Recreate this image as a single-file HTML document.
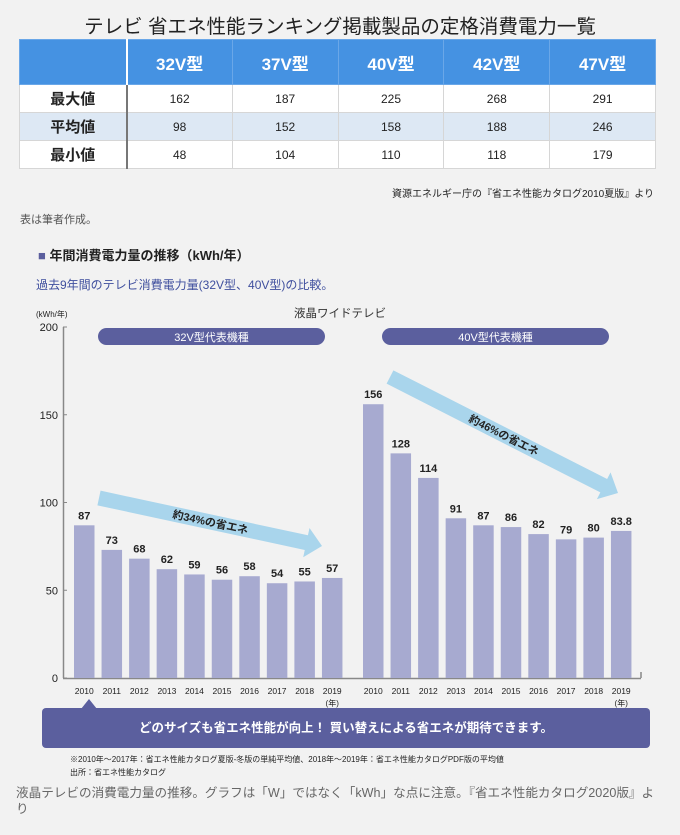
<!DOCTYPE html>
<html><head><meta charset="utf-8"><style>
body{margin:0;width:680px;height:835px;background:#f2f2f2;font-family:"Liberation Sans","Noto Sans CJK JP",sans-serif;position:relative;overflow:hidden}
.a{position:absolute;white-space:nowrap}
table{position:absolute;left:19px;top:39px;width:637px;border-collapse:collapse;table-layout:fixed}
td,th{border:1px solid #d6d6d6;text-align:center;padding:0}
th{background:#4592e2;color:#fff;font-size:17px;height:44px;border-color:#6aa7e8}
td{height:27px;font-size:12px;color:#222;background:#fff}
tr.m td{background:#dde8f4}
td.h{font-weight:bold;font-size:15px;border-right:2px solid #777}
</style></head><body>
<div class="a" style="left:0;width:680px;text-align:center;top:10px;font-size:19.5px;color:#222">テレビ 省エネ性能ランキング掲載製品の定格消費電力一覧</div>
<table>
<colgroup><col style="width:107px"><col><col><col><col><col></colgroup>
<tr><th style="border-right:2px solid #fff"></th><th>32V型</th><th>37V型</th><th>40V型</th><th>42V型</th><th>47V型</th></tr>
<tr><td class="h">最大値</td><td>162</td><td>187</td><td>225</td><td>268</td><td>291</td></tr>
<tr class="m"><td class="h">平均値</td><td>98</td><td>152</td><td>158</td><td>188</td><td>246</td></tr>
<tr><td class="h">最小値</td><td>48</td><td>104</td><td>110</td><td>118</td><td>179</td></tr>
</table>
<div class="a" style="right:26px;top:185px;font-size:10px;color:#222">資源エネルギー庁の『省エネ性能カタログ2010夏版』より</div>
<div class="a" style="left:20px;top:211px;font-size:11px;color:#555">表は筆者作成。</div>
<div class="a" style="left:38px;top:245px;font-size:13px;font-weight:bold;color:#222"><span style="color:#5b5f9e">■</span> 年間消費電力量の推移（kWh/年）</div>
<div class="a" style="left:36px;top:276px;font-size:12px;color:#3f4f9e">過去9年間のテレビ消費電力量(32V型、40V型)の比較。</div>
<svg class="a" style="left:0;top:0" width="680" height="835" id="chart"></svg>
<div class="a" style="left:42px;top:708px;width:608px;height:40px;background:#5b5f9e;border-radius:4px;color:#fff;font-weight:bold;font-size:12.5px;text-align:center;line-height:40px">どのサイズも省エネ性能が向上！ 買い替えによる省エネが期待できます。</div>
<div class="a" style="left:81px;top:699px;width:0;height:0;border-left:8px solid transparent;border-right:8px solid transparent;border-bottom:10px solid #5b5f9e"></div>
<div class="a" style="left:70px;top:754px;font-size:8px;color:#222">※2010年～2017年：省エネ性能カタログ夏版-冬版の単純平均値、2018年～2019年：省エネ性能カタログPDF版の平均値</div>
<div class="a" style="left:70px;top:767px;font-size:8px;color:#222">出所：省エネ性能カタログ</div>
<div class="a" style="left:16px;top:785px;font-size:12.6px;line-height:16px;color:#666">液晶テレビの消費電力量の推移。グラフは「W」ではなく「kWh」な点に注意。『省エネ性能カタログ2020版』よ<br>り</div>
<script>
const years=["2010","2011","2012","2013","2014","2015","2016","2017","2018","2019"];
const values32=[87,73,68,62,59,56,58,54,55,57];
const labels32=["87","73","68","62","59","56","58","54","55","57"];
const values40=[156,128,114,91,87,86,82,79,80,83.8];
const labels40=["156","128","114","91","87","86","82","79","80","83.8"];
const yTicks=[0,50,100,150,200];
const NS="http://www.w3.org/2000/svg";
const svg=document.getElementById('chart');
const y0=678,ppu=1.755;
function y(v){return y0-v*ppu;}
function xg(g,i){return (g===0?74:363)+i*27.55;}
const BW=20.5;
function mk(t,a,txt){const e=document.createElementNS(NS,t);for(const k in a)e.setAttribute(k,a[k]);if(txt!==undefined)e.textContent=txt;svg.appendChild(e);return e;}
let e;
e=mk('line',{x1:63.5,y1:y(200),x2:63.5,y2:y0,stroke:'#888','stroke-width':1.5});

e=mk('line',{x1:63,y1:y0+0.5,x2:641,y2:y0+0.5,stroke:'#888','stroke-width':1.5});

mk('line',{x1:641,y1:y0,x2:641,y2:y0-6,stroke:'#888','stroke-width':1.5});
yTicks.forEach(v=>{
 mk('line',{x1:63,y1:y(v),x2:67,y2:y(v),stroke:'#888'});
 e=mk('text',{x:58,y:y(v)+4,'text-anchor':'end','font-size':11,fill:'#222'},String(v));
 
});
e=mk('text',{x:36,y:317,'font-size':8,fill:'#222'},'(kWh/年)');

e=mk('text',{x:340,y:317,'text-anchor':'middle','font-size':11.5,fill:'#333'},'液晶ワイドテレビ');

[[98,325,'32V型代表機種'],[382,609,'40V型代表機種']].forEach((p,k)=>{
 e=mk('rect',{x:p[0],y:328,width:p[1]-p[0],height:17,rx:8.5,fill:'#5b5f9e'});
 
 mk('text',{x:(p[0]+p[1])/2,y:341,'text-anchor':'middle','font-size':11,fill:'#fff'},p[2]);
});
[values32,values40].forEach((vals,g)=>{
 const labs=g?labels40:labels32;
 vals.forEach((v,i)=>{
  e=mk('rect',{x:xg(g,i),y:y(v),width:BW,height:v*ppu,fill:'#a7aad0'});
  
  
  e=mk('text',{x:xg(g,i)+BW/2,y:y(v)-6,'text-anchor':'middle','font-size':11,'font-weight':'bold',fill:'#222'},labs[i]);
  
  e=mk('text',{x:xg(g,i)+BW/2,y:694,'text-anchor':'middle','font-size':8.5,fill:'#222'},years[i]);
  
 });
 mk('text',{x:xg(g,9)+BW/2,y:706,'text-anchor':'middle','font-size':8,fill:'#222'},'(年)');
});
function arrow(x1,y1,x2,y2,label,name){
 const dx=x2-x1,dy=y2-y1,L=Math.hypot(dx,dy),ang=Math.atan2(dy,dx)*180/Math.PI;
 const g=document.createElementNS(NS,'g');
 g.setAttribute('transform',`translate(${x1},${y1}) rotate(${ang})`);
 
 svg.appendChild(g);
 const p=document.createElementNS(NS,'polygon');
 p.setAttribute('points',`0,-7.5 ${L-16},-7.5 ${L-16},-15 ${L},0 ${L-16},15 ${L-16},7.5 0,7.5`);
 p.setAttribute('fill','#a9d5ec');g.appendChild(p);
 const t=document.createElementNS(NS,'text');
 t.setAttribute('x',L/2);t.setAttribute('y',4);t.setAttribute('text-anchor','middle');
 t.setAttribute('font-size',11);t.setAttribute('font-weight','bold');t.setAttribute('fill','#222');
 t.textContent=label;g.appendChild(t);
}
arrow(99,498,322,546,'約34%の省エネ','arrow-32v');
arrow(390,377,618,493,'約46%の省エネ','arrow-40v');
</script>
</body></html>
